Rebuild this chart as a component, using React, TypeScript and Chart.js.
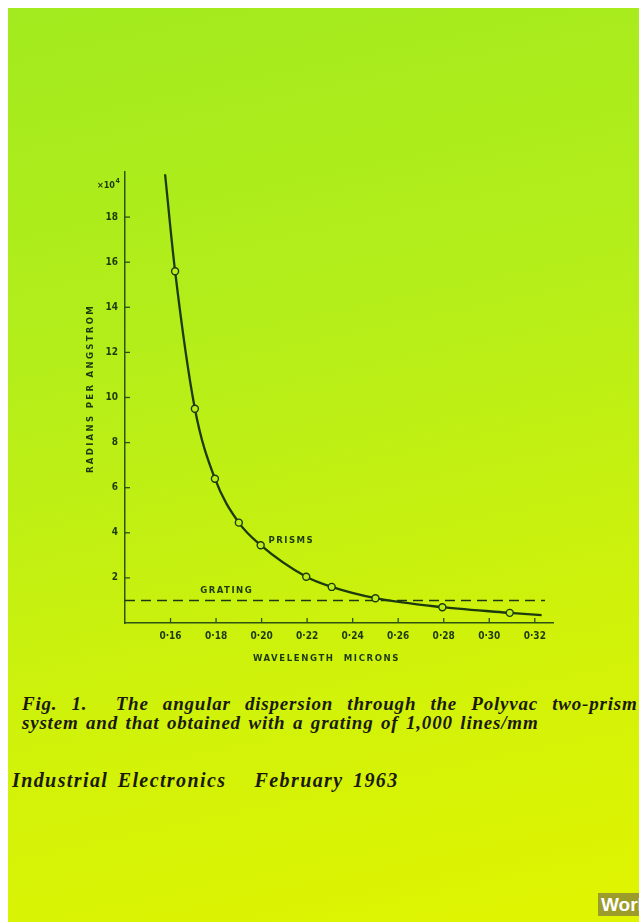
import React, { useEffect, useRef } from "react";
import { Chart, registerables } from "chart.js";

Chart.register(...registerables);

// ---- data ----
const prismWavelength = [0.1576, 0.162, 0.1707, 0.1795, 0.19, 0.1996, 0.2196, 0.2308, 0.25, 0.2794, 0.309, 0.323];
const prismDispersion = [19.9, 15.6, 9.5, 6.4, 4.45, 3.45, 2.05, 1.6, 1.1, 0.7, 0.45, 0.35];
const prismMarked = [false, true, true, true, true, true, true, true, true, true, true, false];

const gratingWavelength = [0.14, 0.3245];
const gratingDispersion = [1, 1];

const xTickValues = [0.16, 0.18, 0.2, 0.22, 0.24, 0.26, 0.28, 0.3, 0.32];
const yTickValues = [2, 4, 6, 8, 10, 12, 14, 16, 18];

const INK = "#1d3a0e";
const AXIS = "#2c5214";
const BG_MID = "#bdee18";
const FONT = '"Liberation Sans Narrow", "DejaVu Sans Condensed", "Liberation Sans", sans-serif';

const overlayPlugin = {
  id: "overlay",
  afterDraw(chart: any) {
    const { ctx, chartArea, scales } = chart;
    const x = scales.x;
    const y = scales.y;
    ctx.save();
    ctx.strokeStyle = AXIS;
    ctx.lineWidth = 1.3;
    // inside tick marks
    xTickValues.forEach((v) => {
      const px = x.getPixelForValue(v);
      ctx.beginPath();
      ctx.moveTo(px, chartArea.bottom);
      ctx.lineTo(px, chartArea.bottom - 5);
      ctx.stroke();
    });
    yTickValues.forEach((v) => {
      const py = y.getPixelForValue(v);
      ctx.beginPath();
      ctx.moveTo(chartArea.left, py);
      ctx.lineTo(chartArea.left + 5, py);
      ctx.stroke();
    });

    ctx.fillStyle = INK;
    ctx.textBaseline = "middle";
    // x10^4
    ctx.font = "bold 9px " + FONT;
    ctx.textAlign = "right";
    const ey = y.getPixelForValue(19.4);
    ctx.fillText("\u00d710", chartArea.left - 10, ey);
    ctx.font = "bold 7px " + FONT;
    ctx.fillText("4", chartArea.left - 5, ey - 4);

    // series labels
    ctx.textAlign = "left";
    ctx.font = "bold 9.5px " + FONT;
    (ctx as any).letterSpacing = "1.5px";
    ctx.fillText("PRISMS", x.getPixelForValue(0.203), y.getPixelForValue(3.64));
    ctx.fillText("GRATING", x.getPixelForValue(0.173), y.getPixelForValue(1.42));

    // x title
    ctx.textAlign = "center";
    (ctx as any).letterSpacing = "1.6px";
    ctx.fillText("WAVELENGTH  MICRONS", x.getPixelForValue(0.2285), chartArea.bottom + 36);

    // y title
    ctx.save();
    ctx.translate(chartArea.left - 34, y.getPixelForValue(10.4));
    ctx.rotate(-Math.PI / 2);
    (ctx as any).letterSpacing = "2.3px";
    ctx.fillText("RADIANS PER ANGSTROM", 0, 0);
    ctx.restore();
    ctx.restore();
  },
};

function ChartCanvas() {
  const ref = useRef<HTMLCanvasElement | null>(null);
  useEffect(() => {
    if (!ref.current) return;
    const chart = new Chart(ref.current, {
      type: "line",
      data: {
        datasets: [
          {
            label: "Prisms",
            data: prismWavelength.map((w, i) => ({ x: w, y: prismDispersion[i] })),
            borderColor: INK,
            borderWidth: 2.3,
            cubicInterpolationMode: "monotone",
            pointRadius: prismMarked.map((m) => (m ? 3.5 : 0)),
            pointBackgroundColor: BG_MID,
            pointBorderColor: INK,
            pointBorderWidth: 1.4,
            fill: false,
          },
          {
            label: "Grating",
            data: gratingWavelength.map((w, i) => ({ x: w, y: gratingDispersion[i] })),
            borderColor: INK,
            borderWidth: 1.5,
            borderDash: [10, 6],
            pointRadius: 0,
            fill: false,
          },
        ],
      },
      options: {
        animation: false,
        responsive: false,
        maintainAspectRatio: false,
        layout: { padding: { top: 22, right: 47, left: 0, bottom: 0 } },
        plugins: { legend: { display: false }, tooltip: { enabled: false } },
        scales: {
          x: {
            type: "linear",
            min: 0.14,
            max: 0.328,
            afterBuildTicks: (s: any) => {
              s.ticks = xTickValues.map((v) => ({ value: v }));
            },
            afterFit: (s: any) => {
              s.height = 67;
            },
            grid: { display: false, drawTicks: false },
            border: { display: true, color: AXIS, width: 1.5 },
            ticks: {
              padding: 7,
              color: INK,
              font: { family: FONT, size: 10, weight: "bold" },
              maxRotation: 0,
              autoSkip: false,
              callback: (v: any) => Number(v).toFixed(2).replace(".", "\u00b7"),
            },
          },
          y: {
            type: "linear",
            min: 0,
            max: 20,
            afterBuildTicks: (s: any) => {
              s.ticks = yTickValues.map((v) => ({ value: v }));
            },
            afterFit: (s: any) => {
              s.width = 85;
            },
            grid: { display: false, drawTicks: false },
            border: { display: true, color: AXIS, width: 1.5 },
            ticks: {
              padding: 7,
              color: INK,
              font: { family: FONT, size: 10, weight: "bold" },
              autoSkip: false,
              callback: (v: any) => String(v),
            },
          },
        },
      },
      plugins: [overlayPlugin],
    } as any);
    return () => chart.destroy();
  }, []);
  return (
    <canvas
      ref={ref}
      width={560}
      height={540}
      style={{ position: "absolute", left: 32, top: 142, width: 560, height: 540 }}
    />
  );
}

export default function App() {
  const serif = '"Liberation Serif", "Times New Roman", serif';
  const captionStyle: React.CSSProperties = {
    position: "absolute",
    left: 14,
    fontFamily: serif,
    fontWeight: "bold",
    fontStyle: "italic",
    fontSize: 19,
    letterSpacing: "0.8px",
    lineHeight: "19px",
    color: "#1a1a0a",
    whiteSpace: "pre",
  };
  return (
    <div
      style={{
        position: "fixed",
        left: 8,
        top: 8,
        width: 631,
        height: 914,
        overflow: "hidden",
        background: "linear-gradient(168deg, #a2ea1e 0%, #b4ee1a 35%, #d0f20a 70%, #e0f400 100%)",
      }}
    >
      <ChartCanvas />
      <div style={{ ...captionStyle, top: 686, wordSpacing: "8.6px" }}>
        {"Fig. 1.  The angular dispersion through the Polyvac two-prism"}
      </div>
      <div style={{ ...captionStyle, top: 705, wordSpacing: "2px" }}>
        {"system and that obtained with a grating of 1,000 lines/mm"}
      </div>
      <div
        style={{
          position: "absolute",
          left: 4,
          top: 761,
          fontFamily: serif,
          fontWeight: "bold",
          fontStyle: "italic",
          fontSize: 20,
          letterSpacing: "1.4px",
          wordSpacing: "3px",
          color: "#1a1a0a",
          whiteSpace: "pre",
        }}
      >
        {"Industrial Electronics   February 1963"}
      </div>
      <div
        style={{
          position: "absolute",
          left: 590,
          top: 885,
          height: 23,
          padding: "0 3px",
          background: "#9c9c2a",
          color: "#ffffff",
          fontFamily: '"Liberation Sans", sans-serif',
          fontWeight: "bold",
          fontSize: 19,
          lineHeight: "23px",
          whiteSpace: "pre",
        }}
      >
        {"World"}
      </div>
    </div>
  );
}
